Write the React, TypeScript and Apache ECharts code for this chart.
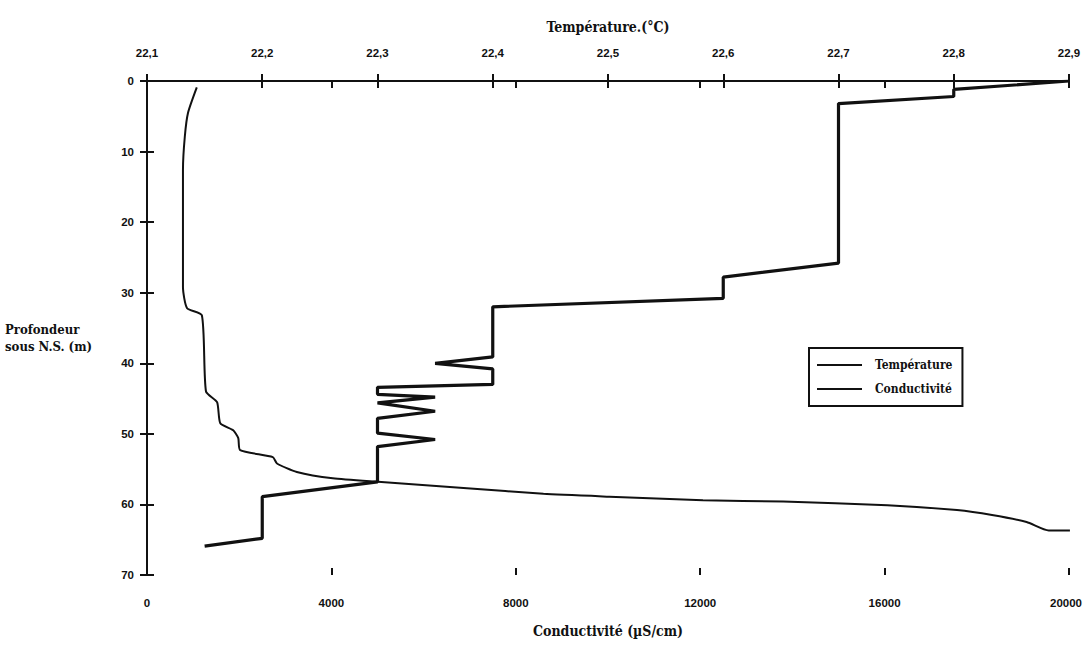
import React, { useEffect, useRef } from "react";
import * as echarts from "echarts";

const depthTicks = [0, 10, 20, 30, 40, 50, 60, 70];

// Température (°C) vs profondeur (m)
const tempValues = [22.9, 22.8, 22.8, 22.7, 22.7, 22.6, 22.6, 22.4, 22.4, 22.35, 22.4, 22.4, 22.3, 22.3, 22.35, 22.3, 22.35, 22.3, 22.3, 22.35, 22.3, 22.3, 22.2, 22.2, 22.15];
const tempDepths = [0, 1.2, 2.2, 3.2, 25.8, 27.8, 30.8, 32.0, 39.1, 40.0, 40.8, 43.0, 43.4, 44.4, 44.8, 45.6, 46.8, 47.8, 49.9, 50.8, 51.8, 56.8, 58.9, 64.8, 65.9];

// Conductivité (µS/cm) vs profondeur (m)
const condValues = [1080, 890, 820, 780, 780, 870, 1190, 1280, 1520, 1590, 1870, 1980, 2020, 2730, 2820, 3250, 4030, 5010, 6940, 8600, 10030, 12060, 13800, 16060, 17570, 18330, 19080, 19560, 20020];
const condDepths = [0.9, 4.5, 7.9, 12.6, 29.2, 32.2, 33.2, 44.0, 45.5, 48.5, 49.5, 50.6, 52.3, 53.3, 54.2, 55.4, 56.3, 56.8, 57.7, 58.5, 58.9, 59.4, 59.6, 60.1, 60.8, 61.5, 62.5, 63.7, 63.7];

const FONT = "'Liberation Sans', Arial, sans-serif";
const TITLE_FONT = "'DejaVu Serif Condensed', 'Liberation Serif', serif";

export default function App() {
  const ref = useRef<HTMLDivElement>(null);
  useEffect(() => {
    if (!ref.current) return;
    const chart = echarts.init(ref.current, undefined, { renderer: "svg" });
    const tempData = tempValues.map((v, i) => [v, tempDepths[i]]);
    const condData = condValues.map((v, i) => [v, condDepths[i]]);
    const axisLine = { show: true, lineStyle: { color: "#111", width: 2 } };
    const label = { color: "#111", fontFamily: FONT, fontWeight: "bold" as const, fontSize: 11.5 };
    chart.setOption({
      animation: false,
      backgroundColor: "#fff",
      grid: { left: 147, right: 16, top: 81, bottom: 70, outerBoundsMode: "none", containLabel: false },
      legend: {
        orient: "vertical",
        left: 809,
        top: 348,
        width: 156,
        padding: [11, 10, 11, 8],
        itemGap: 12,
        itemWidth: 45,
        itemHeight: 2,
        borderColor: "#111",
        borderWidth: 2,
        backgroundColor: "#fff",
        lineStyle: { width: 2, color: "#111" },
        textStyle: { color: "#111", fontFamily: TITLE_FONT, fontWeight: "bold", fontSize: 12, padding: [0, 0, 0, 8] },
        data: [
          { name: "Température", icon: "rect", itemStyle: { color: "#111" } },
          { name: "Conductivité", icon: "rect", itemStyle: { color: "#111" } },
        ],
      },
      xAxis: [
        {
          type: "value",
          position: "top",
          min: 22.1,
          max: 22.9,
          interval: 0.1,
          name: "Température.(°C)",
          nameLocation: "middle",
          nameGap: 47,
          nameTextStyle: { color: "#111", fontFamily: TITLE_FONT, fontWeight: "bold", fontSize: 14 },
          axisLine,
          axisTick: { show: true, inside: false, length: 7, lineStyle: { color: "#111", width: 2 } },
          axisLabel: { ...label, margin: 22, formatter: (v: number) => v.toFixed(1).replace(".", ",") },
          splitLine: { show: false },
        },
        {
          type: "value",
          position: "bottom",
          min: 0,
          max: 20000,
          interval: 4000,
          name: "Conductivité (µS/cm)",
          nameLocation: "middle",
          nameGap: 49,
          nameTextStyle: { color: "#111", fontFamily: TITLE_FONT, fontWeight: "bold", fontSize: 14 },
          axisLine,
          axisTick: { show: true, inside: false, length: 7, lineStyle: { color: "#111", width: 2 } },
          axisLabel: {
            ...label,
            margin: 22,
            formatter: (v: number) => (v >= 20000 ? "{r|" + v + "}" : String(v)),
            rich: { r: { color: "#111", fontFamily: FONT, fontWeight: "bold", fontSize: 11.5, padding: [0, 6, 0, 0] } },
          },
          splitLine: { show: false },
        },
        {
          type: "value",
          position: "top",
          min: 22.1,
          max: 22.9,
          interval: 0.1,
          axisLine: { show: false },
          axisTick: { show: true, inside: true, length: 7, lineStyle: { color: "#111", width: 2 } },
          axisLabel: { show: false },
          splitLine: { show: false },
        },
        {
          type: "value",
          position: "bottom",
          min: 0,
          max: 20000,
          interval: 4000,
          axisLine: { show: false },
          axisTick: { show: true, inside: true, length: 7, lineStyle: { color: "#111", width: 2 } },
          axisLabel: { show: false },
          splitLine: { show: false },
        },
      ],
      yAxis: [
        {
          type: "value",
          inverse: true,
          min: depthTicks[0],
          max: depthTicks[depthTicks.length - 1],
          interval: 10,
          axisLine,
          axisTick: { show: true, inside: false, length: 7, lineStyle: { color: "#111", width: 2 } },
          axisLabel: { ...label, margin: 13 },
          splitLine: { show: false },
        },
        {
          type: "value",
          inverse: true,
          position: "left",
          min: 0,
          max: 70,
          interval: 10,
          axisLine: { show: false },
          axisTick: { show: true, inside: true, length: 7, lineStyle: { color: "#111", width: 2 } },
          axisLabel: { show: false },
          splitLine: { show: false },
        },
      ],
      graphic: [
        {
          type: "text",
          left: 5,
          top: 321,
          style: {
            text: "Profondeur\nsous N.S. (m)",
            fill: "#111",
            font: `bold 13px ${TITLE_FONT}`,
            lineHeight: 17,
            align: "center",
          },
        },
      ],
      series: [
        {
          name: "Température",
          type: "line",
          xAxisIndex: 0,
          yAxisIndex: 0,
          data: tempData,
          symbol: "none",
          lineStyle: { color: "#111", width: 3.2 },
          itemStyle: { color: "#111" },
        },
        {
          name: "Conductivité",
          type: "line",
          xAxisIndex: 1,
          yAxisIndex: 0,
          data: condData,
          symbol: "none",
          smooth: 0.2,
          lineStyle: { color: "#111", width: 2 },
          itemStyle: { color: "#111" },
        },
      ],
    });
    return () => chart.dispose();
  }, []);
  return <div ref={ref} style={{ position: "fixed", left: 0, top: 0, width: 1085, height: 645 }} />;
}
